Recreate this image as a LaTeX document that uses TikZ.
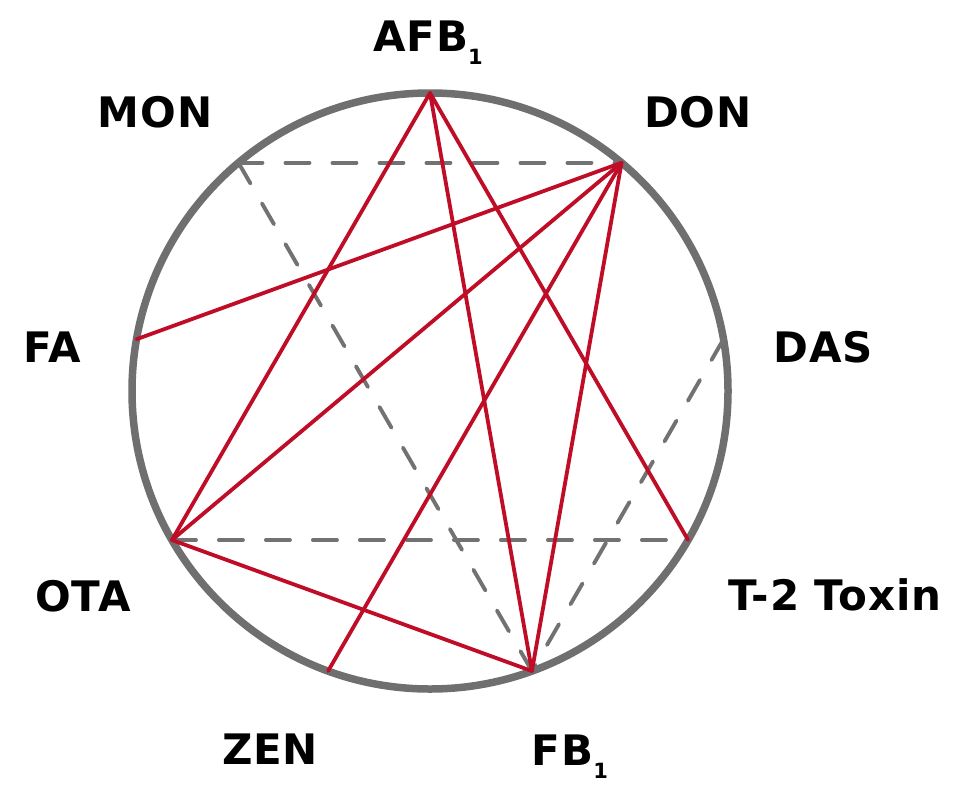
\documentclass[tikz,border=0pt]{standalone}
\usepackage{fontspec}
\setmainfont{DejaVu Sans}
\usetikzlibrary{calc}
\begin{document}
\begin{tikzpicture}[x=1pt,y=-1pt]
\definecolor{ringgrey}{HTML}{6F6F70}
\definecolor{dashgrey}{HTML}{727272}
\definecolor{linkred}{HTML}{C00D27}
\tikzset{
  ring/.style={draw=ringgrey,line width=7.5pt},
  redlink/.style={draw=linkred,line width=3.8pt,line cap=round},
  greylink/.style={draw=dashgrey,line width=3.9pt,line cap=round,dash pattern=on 24pt off 23pt},
  lbl/.style={font=\fontsize{42}{44}\selectfont\bfseries\addfontfeature{LetterSpace=2},inner sep=0pt,anchor=base},
}
\newcommand{\subone}{\raisebox{-13pt}{\fontsize{21}{22}\selectfont\bfseries 1}}
\useasboundingbox (0,0) rectangle (965,800);
\coordinate (c) at (430,391);
\node[ring,circle,minimum size=596pt,inner sep=0pt] (ringc) at (c) {};
% polar angles are negated because the y axis points down
\coordinate (afb) at ($(c)+(-90:298)$);
\coordinate (don) at ($(c)+(-50:298)$);
\coordinate (das) at ($(c)+(-10:298)$);
\coordinate (t2) at ($(c)+(30:298)$);
\coordinate (fb) at ($(c)+(70:298)$);
\coordinate (zen) at ($(c)+(110:298)$);
\coordinate (ota) at ($(c)+(150:298)$);
\coordinate (fa) at ($(c)+(-170:298)$);
\coordinate (mon) at ($(c)+(-130:298)$);
% dashed links
\draw[greylink] (mon) -- (don);
\draw[greylink] (mon) -- (fb);
\draw[greylink] (ota) -- (t2);
\draw[greylink] (das) -- (fb);
% red links
\draw[redlink] (afb) -- (ota);
\draw[redlink] (afb) -- (fb);
\draw[redlink] (afb) -- (t2);
\draw[redlink] (don) -- (fa);
\draw[redlink] (don) -- (ota);
\draw[redlink] (don) -- (zen);
\draw[redlink] (don) -- (fb);
\draw[redlink] (ota) -- (fb);
% labels
\node[lbl] (lafb) at (428,52) {AFB\subone};
\node[lbl] (lmon) at (155,127) {MON};
\node[lbl] (ldon) at (698,127) {DON};
\node[lbl] (lfa) at (52,362) {FA};
\node[lbl] (ldas) at (823,362) {DAS};
\node[lbl] (lota) at (83,611) {OTA};
\node[lbl] (lt2) at (835,610) {T-2 Toxin};
\node[lbl] (lzen) at (270,764) {ZEN};
\node[lbl] (lfb) at (570,765) {FB\subone};
\end{tikzpicture}
\end{document}
